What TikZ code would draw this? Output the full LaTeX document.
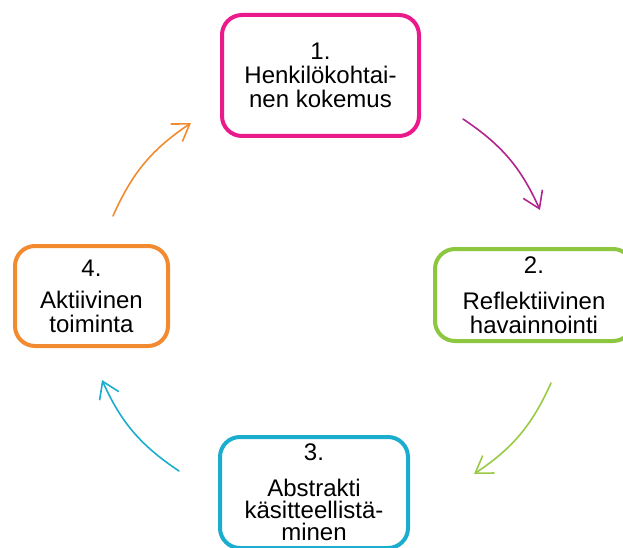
\documentclass[tikz,border=0pt]{standalone}
\usepackage{fontspec}
\setmainfont{Liberation Sans}
\usetikzlibrary{arrows.meta}

\definecolor{stagepink}{HTML}{EA1A8C}
\definecolor{stagegreen}{HTML}{8DC63F}
\definecolor{stagecyan}{HTML}{1AADCE}
\definecolor{stageorange}{HTML}{F28A30}
\definecolor{arrowpurple}{HTML}{B3248E}
\definecolor{arrowgreen}{HTML}{9ACA45}

\begin{document}
\begin{tikzpicture}[
    x=1pt,
    y=1pt,
    stage/.style={
        rectangle,
        draw,
        line width=4pt,
        rounded corners=20pt,
        fill=white,
        inner sep=0pt,
        align=center,
        font=\fontsize{24}{24}\selectfont
    },
    line/.style={draw, line width=1.6pt, line cap=round, line join=round,
        -{Straight Barb[length=16pt,width=21pt]}, bend left=16}
]
\useasboundingbox (0,0) rectangle (623,547);

% Stages of the cycle
\node [stage, draw=stagepink, minimum width=197pt, minimum height=121pt] (experience) at (320.5,471.5) {1.\\Henkilökohtai-\\nen kokemus};

\node [stage, draw=stagegreen, minimum width=198pt, minimum height=92pt] (reflection) at (534,252) {2.\\[12pt]Reflektiivinen\\havainnointi};

\node [stage, draw=stagecyan, minimum width=188pt, minimum height=111pt, font=\fontsize{24}{22}\selectfont] (abstraction) at (314,54.5) {3.\\[14pt]Abstrakti\\käsitteellistä-\\minen};

\node [stage, draw=stageorange, minimum width=153pt, minimum height=100pt] (action) at (91.5,251) {4.\\[8pt]Aktiivinen\\toiminta};

% Arrow ends
\coordinate (a1s) at (463,428);
\coordinate (a1e) at (540,337);
\coordinate (a2s) at (551,164);
\coordinate (a2e) at (474,73);
\coordinate (a3s) at (179,76);
\coordinate (a3e) at (102,167);
\coordinate (a4s) at (113,331);
\coordinate (a4e) at (191,424);

% Arrows
\draw [line, arrowpurple] (a1s) to (a1e);
\draw [line, arrowgreen] (a2s) to (a2e);
\draw [line, stagecyan] (a3s) to (a3e);
\draw [line, stageorange] (a4s) to (a4e);

\end{tikzpicture}
\end{document}
